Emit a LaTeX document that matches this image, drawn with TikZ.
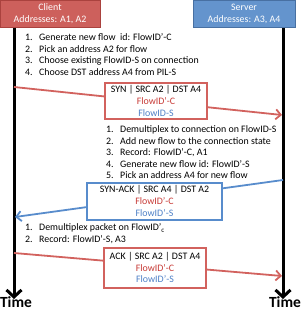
\documentclass[tikz,border=0pt]{standalone}
\usepackage{fontspec}
\setmainfont{Carlito}
\usetikzlibrary{arrows.meta}
\definecolor{hredfill}{RGB}{205,96,92}
\definecolor{hredline}{RGB}{170,66,62}
\definecolor{hbluefill}{RGB}{100,148,205}
\definecolor{hblueline}{RGB}{72,112,162}
\definecolor{lred}{RGB}{210,98,94}
\definecolor{lblue}{RGB}{88,140,204}
\definecolor{tred}{RGB}{200,60,56}
\definecolor{tblue}{RGB}{79,129,199}
\begin{document}
\begin{tikzpicture}[x=1pt,y=-1pt,
  txt/.style={font=\fontsize{9.9}{11.6}\selectfont},
  hdr/.style={txt, text=white, align=center, inner sep=0pt, line width=1pt, minimum height=27pt},
  pkt/.style={txt, align=center, fill=white, inner sep=0pt, line width=2pt},
  itm/.style={txt, anchor=base west, inner sep=0pt},
  timeline/.style={line width=3pt, -{Straight Barb[length=7pt,width=15pt]}},
  msg/.style={line width=1.8pt, -{Straight Barb[length=5pt,width=10pt]}},
  timelabel/.style={font=\fontsize{15.5}{16}\selectfont\bfseries, anchor=base, inner sep=0pt}]
\useasboundingbox (0,0) rectangle (301,311);
% headers
\node[hdr, fill=hredfill, draw=hredline, minimum width=100pt] (client) at (50,13.5) {Client\\Addresses: A1, A2};
\node[hdr, fill=hbluefill, draw=hblueline, minimum width=102pt] (server) at (244,14) {Server\\Addresses: A3, A4};
% timelines
\coordinate (ctop) at (14,27.5);
\coordinate (cbot) at (14,299);
\coordinate (stop) at (283,28);
\coordinate (sbot) at (283,299);
\draw[timeline] (ctop) -- (cbot);
\draw[timeline] (stop) -- (sbot);
\node[timelabel] (ctime) at (16,307.5) {Time};
\node[timelabel] (stime) at (285,307.5) {Time};
% messages
\coordinate (synA) at (14,87);
\coordinate (synB) at (282,115);
\coordinate (ackA) at (283,180);
\coordinate (ackB) at (15,217);
\coordinate (finA) at (14,253);
\coordinate (finB) at (282,276);
\draw[msg, lred] (synA) -- (synB);
\draw[msg, lblue] (ackA) -- (ackB);
\draw[msg, lred] (finA) -- (finB);
\node[pkt, draw=lred, minimum width=102pt, minimum height=36pt] (syn) at (156,101)
  {SYN | SRC A2 | DST A4\\\textcolor{tred}{FlowID’-C}\\\textcolor{tblue}{FlowID-S}};
\node[pkt, draw=lblue, minimum width=135pt, minimum height=37pt] (synack) at (154.5,201)
  {SYN-ACK | SRC A4 | DST A2\\\textcolor{tred}{FlowID’-C}\\\textcolor{tblue}{FlowID’-S}};
\node[pkt, draw=lred, minimum width=102pt, minimum height=40pt] (ack) at (155,267.5)
  {ACK | SRC A2 | DST A4\\\textcolor{tred}{FlowID’-C}\\\textcolor{tblue}{FlowID’-S}};
% client list 1
\node[itm] (n11) at (25,40.5) {1.};
\node[itm] (t11) at (39,40.5) {Generate new flow\ \ id: FlowID’-C};
\node[itm] (n12) at (25,52.2) {2.};
\node[itm] (t12) at (39,52.2) {Pick an address A2 for flow};
\node[itm] (n13) at (25,63.9) {3.};
\node[itm] (t13) at (39,63.9) {Choose existing FlowID-S on connection};
\node[itm] (n14) at (25,75.6) {4.};
\node[itm] (t14) at (39,75.6) {Choose DST address A4 from PIL-S};
% server list
\node[itm] (n21) at (106,132.5) {1.};
\node[itm] (t21) at (120,132.5) {Demultiplex to connection on FlowID-S};
\node[itm] (n22) at (106,144.1) {2.};
\node[itm] (t22) at (120,144.1) {Add new flow to the connection state};
\node[itm] (n23) at (106,155.7) {3.};
\node[itm] (t23) at (120,155.7) {Record: FlowID’-C, A1};
\node[itm] (n24) at (106,167.3) {4.};
\node[itm] (t24) at (120,167.3) {Generate new flow id: FlowID’-S};
\node[itm] (n25) at (106,178.9) {5.};
\node[itm] (t25) at (120,178.9) {Pick an address A4 for new flow};
% client list 2
\node[itm] (n31) at (25,230.5) {1.};
\node[itm] (t31) at (39,230.5) {Demultiplex packet on FlowID’\textsubscript{c}};
\node[itm] (n32) at (25,242) {2.};
\node[itm] (t32) at (39,242) {Record: FlowID’-S, A3};
\end{tikzpicture}
\end{document}
